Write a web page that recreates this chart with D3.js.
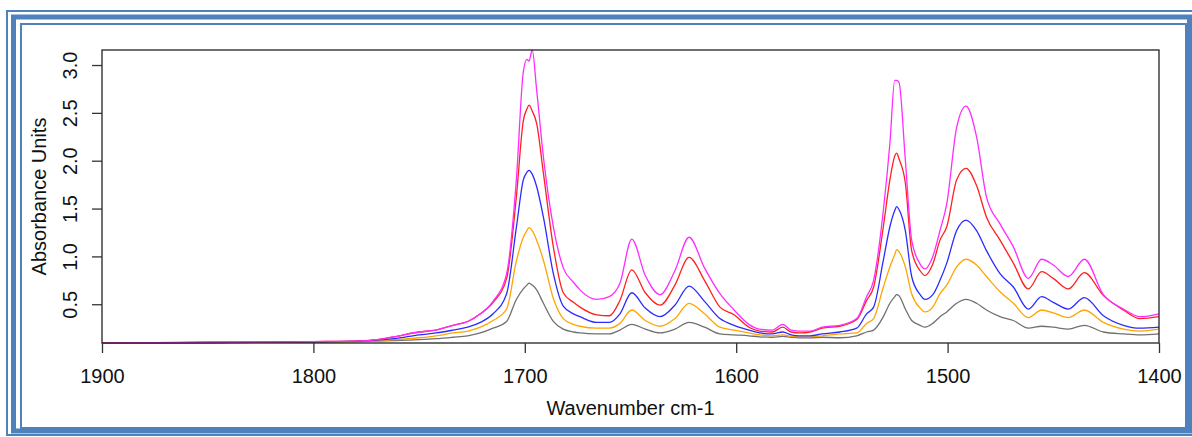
<!DOCTYPE html>
<html lang="en">
<head>
  <meta charset="UTF-8">
  <title>Absorbance spectra</title>
  <script src="https://d3js.org/d3.v7.min.js"></script>
  <style>
    body { margin: 0; background: #fff; }
    text { font-family: "Liberation Sans", Arial, sans-serif; fill: #111; }
  </style>
</head>
<body>
  <div id="chart"></div>

  <script>
    // wavenumbers (cm-1), shared by all five spectra
    const wavenumbers = [1900, 1850, 1800, 1780, 1770, 1762, 1750, 1742, 1734, 1727, 1721, 1715, 1708.6, 1704,
      1700.7, 1699, 1698, 1696.5, 1694.4, 1691.2, 1686.5, 1681.8, 1677, 1673.9, 1666, 1660, 1655, 1649.4,
      1643, 1636, 1629, 1622.3, 1615, 1607.7, 1601, 1594, 1589, 1583, 1578, 1574, 1570, 1565, 1559.4, 1551,
      1543, 1538.3, 1535, 1530.4, 1527.3, 1525, 1524.1, 1523, 1520, 1517, 1513, 1510.7, 1507, 1503.6, 1500.4,
      1495.7, 1491.3, 1486.3, 1481.6, 1475.2, 1468.9, 1461.8, 1455.5, 1450, 1442.9, 1435.3, 1426.3, 1416.8,
      1409, 1400];

    const graySpec = [0.095, 0.10, 0.105, 0.11, 0.115, 0.12, 0.13, 0.14, 0.155, 0.17, 0.20, 0.25, 0.32, 0.55,
      0.66, 0.70, 0.72, 0.70, 0.65, 0.51, 0.32, 0.24, 0.21, 0.20, 0.19, 0.19, 0.23, 0.29,
      0.24, 0.20, 0.24, 0.31, 0.26, 0.19, 0.18, 0.17, 0.16, 0.155, 0.165, 0.155, 0.15, 0.15, 0.155, 0.15,
      0.17, 0.21, 0.23, 0.37, 0.51, 0.58, 0.60, 0.59, 0.45, 0.33, 0.28, 0.26, 0.30, 0.37, 0.42,
      0.51, 0.55, 0.51, 0.44, 0.37, 0.33, 0.25, 0.27, 0.26, 0.24, 0.28, 0.21, 0.19,
      0.18, 0.19];

    const orangeSpec = [0.095, 0.10, 0.105, 0.11, 0.12, 0.13, 0.15, 0.17, 0.20, 0.22, 0.26, 0.33, 0.45, 0.95,
      1.20, 1.27, 1.30, 1.27, 1.17, 0.96, 0.56, 0.35, 0.29, 0.27, 0.25, 0.25, 0.30, 0.44,
      0.33, 0.27, 0.35, 0.51, 0.40, 0.26, 0.23, 0.20, 0.18, 0.17, 0.18, 0.165, 0.16, 0.16, 0.17, 0.19,
      0.20, 0.30, 0.35, 0.68, 0.89, 1.02, 1.07, 1.05, 0.89, 0.61, 0.46, 0.42, 0.47, 0.61, 0.70,
      0.89, 0.97, 0.91, 0.79, 0.63, 0.51, 0.36, 0.44, 0.41, 0.36, 0.44, 0.31, 0.24,
      0.22, 0.24];

    const blueSpec = [0.095, 0.10, 0.105, 0.115, 0.125, 0.14, 0.18, 0.20, 0.23, 0.26, 0.31, 0.40, 0.61, 1.30,
      1.80, 1.88, 1.90, 1.86, 1.73, 1.41, 0.82, 0.48, 0.40, 0.37, 0.31, 0.31, 0.40, 0.62,
      0.46, 0.37, 0.49, 0.69, 0.53, 0.35, 0.28, 0.23, 0.20, 0.19, 0.21, 0.18, 0.17, 0.17, 0.19, 0.21,
      0.25, 0.40, 0.47, 0.96, 1.31, 1.48, 1.52, 1.49, 1.27, 0.79, 0.60, 0.55, 0.60, 0.75, 0.93,
      1.27, 1.38, 1.27, 1.06, 0.82, 0.68, 0.45, 0.58, 0.52, 0.45, 0.57, 0.38, 0.28,
      0.25, 0.26];

    const redSpec = [0.095, 0.10, 0.11, 0.115, 0.13, 0.16, 0.21, 0.23, 0.28, 0.32, 0.40, 0.52, 0.77, 1.62,
      2.42, 2.54, 2.58, 2.52, 2.39, 1.87, 1.10, 0.62, 0.52, 0.47, 0.39, 0.38, 0.54, 0.86,
      0.62, 0.49, 0.70, 0.99, 0.75, 0.47, 0.39, 0.26, 0.22, 0.21, 0.26, 0.21, 0.20, 0.21, 0.25, 0.27,
      0.34, 0.54, 0.68, 1.31, 1.80, 2.05, 2.08, 2.02, 1.77, 1.06, 0.85, 0.80, 0.92, 1.17, 1.31,
      1.80, 1.92, 1.74, 1.41, 1.17, 0.93, 0.66, 0.84, 0.77, 0.66, 0.83, 0.59, 0.44,
      0.35, 0.37];

    const magentaSpec = [0.095, 0.10, 0.11, 0.115, 0.13, 0.16, 0.21, 0.23, 0.28, 0.32, 0.40, 0.53, 0.82, 1.80,
      2.93, 3.06, 3.04, 3.157, 2.74, 2.04, 1.31, 0.88, 0.73, 0.65, 0.55, 0.58, 0.72, 1.18,
      0.80, 0.60, 0.85, 1.20, 0.88, 0.61, 0.44, 0.29, 0.24, 0.23, 0.29, 0.23, 0.22, 0.22, 0.26, 0.28,
      0.35, 0.58, 0.75, 1.48, 2.18, 2.84, 2.84, 2.82, 2.01, 1.17, 0.92, 0.87, 1.00, 1.27, 1.55,
      2.35, 2.57, 2.25, 1.62, 1.34, 1.10, 0.77, 0.97, 0.91, 0.79, 0.97, 0.60, 0.45,
      0.37, 0.40];

    const seriesNames = ["gray", "orange", "blue", "red", "magenta"];
    const seriesValues = [graySpec, orangeSpec, blueSpec, redSpec, magentaSpec];
    const seriesColors = ["#707070", "#ffa500", "#2b2bff", "#ff2020", "#ff2cff"];

    const xTicks = [1900, 1800, 1700, 1600, 1500, 1400];
    const yTicks = [0.5, 1.0, 1.5, 2.0, 2.5, 3.0];

    const W = 1192, H = 437;
    const box = { left: 102, right: 1159, top: 50, bottom: 343 };

    const svg = d3.select("#chart").append("svg")
      .attr("width", W)
      .attr("height", H);

    // blue picture frame
    const frameColor = "#4f81bd";
    svg.append("rect").attr("x", 7).attr("y", 11).attr("width", 1190).attr("height", 424)
      .attr("fill", "none").attr("stroke", frameColor).attr("stroke-width", 2);
    svg.append("rect").attr("x", 13.5).attr("y", 17).attr("width", 1176).attr("height", 414)
      .attr("fill", "none").attr("stroke", frameColor).attr("stroke-width", 5);
    svg.append("rect").attr("x", 21).attr("y", 24).attr("width", 1165).attr("height", 404)
      .attr("fill", "none").attr("stroke", frameColor).attr("stroke-width", 2);

    // scales
    const allValues = seriesValues.flat();
    const x = d3.scaleLinear().domain([1900, 1400]).range([box.left, box.right]);
    const y = d3.scaleLinear().domain(d3.extent(allValues)).range([box.bottom, box.top]);

    // spectra
    const line = d3.line()
      .x(d => x(d[0]))
      .y(d => y(d[1]))
      .curve(d3.curveMonotoneX);

    seriesValues.forEach((vals, i) => {
      svg.append("path")
        .datum(wavenumbers.map((w, j) => [w, vals[j]]))
        .attr("class", "spec " + seriesNames[i])
        .attr("fill", "none")
        .attr("stroke", seriesColors[i])
        .attr("stroke-width", 1.3)
        .attr("stroke-linejoin", "round")
        .attr("d", line);
    });

    // plot box
    svg.append("rect")
      .attr("x", box.left).attr("y", box.top)
      .attr("width", box.right - box.left).attr("height", box.bottom - box.top)
      .attr("fill", "none").attr("stroke", "#222").attr("stroke-width", 1.3);

    // x axis
    const xAxis = svg.append("g")
      .attr("transform", `translate(0,${box.bottom})`)
      .call(d3.axisBottom(x).tickValues(xTicks).tickSize(10).tickPadding(16).tickFormat(d3.format("d")));
    xAxis.select(".domain").remove();
    xAxis.selectAll("line").attr("stroke", "#333").attr("stroke-width", 1.3);
    xAxis.selectAll("text").attr("font-size", 20).attr("fill", "#111")
      .attr("font-family", "Liberation Sans, Arial, sans-serif");

    // y axis, labels turned like R's default
    const yAxis = svg.append("g")
      .attr("transform", `translate(${box.left},0)`)
      .call(d3.axisLeft(y).tickValues(yTicks).tickSize(10).tickFormat(d3.format(".1f")));
    yAxis.select(".domain").remove();
    yAxis.selectAll("line").attr("stroke", "#333").attr("stroke-width", 1.3);
    yAxis.selectAll("text")
      .attr("font-size", 20).attr("fill", "#111")
      .attr("font-family", "Liberation Sans, Arial, sans-serif")
      .attr("x", null).attr("dy", null)
      .attr("text-anchor", "middle")
      .attr("transform", d => `translate(-25,0) rotate(-90)`);

    // axis titles
    svg.append("text")
      .attr("x", (box.left + box.right) / 2)
      .attr("y", 415)
      .attr("text-anchor", "middle")
      .attr("font-size", 20)
      .text("Wavenumber cm-1");

    svg.append("text")
      .attr("transform", `translate(46,${(box.top + box.bottom) / 2}) rotate(-90)`)
      .attr("text-anchor", "middle")
      .attr("font-size", 20)
      .text("Absorbance Units");
  </script>
</body>
</html>
